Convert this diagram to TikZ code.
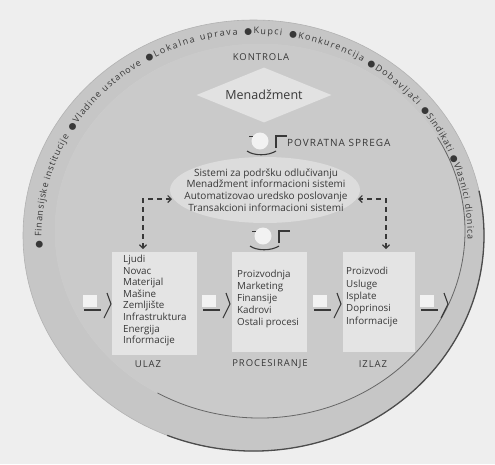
\documentclass[tikz,border=0pt]{standalone}
\usepackage{fontspec}
\setmainfont{Open Sans}
\newfontfamily\bulf{DejaVu Sans}
\newfontfamily\capsf[LetterSpace=10]{Open Sans}
\usetikzlibrary{decorations.text,arrows.meta,shapes.geometric}
\definecolor{txt}{HTML}{383838}
\definecolor{bgc}{HTML}{EEEEEE}
\definecolor{ringc}{HTML}{C6C6C6}
\definecolor{discc}{HTML}{CACACA}
\definecolor{boxc}{HTML}{E4E4E4}
\definecolor{cloudc}{HTML}{DCDCDC}
\definecolor{diac}{HTML}{E2E2E2}
\definecolor{iconc}{HTML}{F2F2F2}
\newcommand\ringfont{\fontsize{9}{10}\selectfont\color{txt}}
\newcommand\ringseg[3]{%
  \path[decorate, decoration={text along path, text align={fit to path}, text={|\ringfont|#3}}]
  (254.5,-236) ++(#1:213 and 202) arc[start angle=#1, end angle=#2, x radius=213, y radius=202];}
\tikzset{
  lbl/.style={text=txt, inner sep=0pt, font=\capsf\fontsize{9.5}{11}\selectfont},
  listtxt/.style={text=txt, inner sep=0pt, align=left, font=\fontsize{9.8}{11.6}\selectfont},
  boxst/.style={fill=boxc, inner sep=0pt, anchor=north west},
  dconn/.style={txt, line width=1.1pt, dash pattern=on 5pt off 4pt,
     {Straight Barb[length=3.5pt,width=7pt]}-{Straight Barb[length=3.5pt,width=7pt]}},
  inarrow/.pic={
    \fill[iconc] (0,3) rectangle (14,15);
    \draw[txt, line width=1.1pt] (1,0) -- (18,0);
    \draw[txt, line width=1.1pt, line join=round] (24,17) -- (28,6) -- (21,-8);
  },
  fbicon/.pic={
    \fill[iconc] (0,0) circle (8.5);
    \draw[txt, line width=0.6pt] (-11,5) -- (-7,5);
    \draw[txt, line width=1.1pt] (-13,-10) .. controls (-6,-15) and (8,-15) .. (16,-10);
    \draw[txt, line width=1.3pt] (16,-7) -- (16,5) -- (27,5);
  }
}
\begin{document}
\begin{tikzpicture}[x=1pt,y=1pt]
\useasboundingbox (0,0) rectangle (495,-464);
\fill[bgc] (0,0) rectangle (495,-464);
% outer disc
\fill[ringc] (253.5,-235.5) ellipse [x radius=230.5, y radius=215.5];
\draw[gray!60, line width=0.6pt] (253.5,-235.5) ellipse [x radius=230.5, y radius=215.5];
\draw[black!70, line width=1.3pt] (253.5,-235.5) ++(-112:230.5 and 215.5)
   arc[start angle=-112, end angle=12, x radius=230.5, y radius=215.5];
% inner disc
\fill[discc] (260,-231) ellipse [x radius=205, y radius=187];
\draw[gray!40, line width=0.5pt] (260,-231) ellipse [x radius=205, y radius=187];
\draw[black!60, line width=0.8pt] (260,-231) ++(-120:205 and 187)
   arc[start angle=-120, end angle=30, x radius=205, y radius=187];
% text along the ring
\ringseg{183.5}{150.5}{{\bulf ●} Finansijske institucije}
\ringseg{148.7}{122}{{\bulf ●}Vladine ustanove}
\ringseg{120.3}{94.5}{{\bulf ●}Lokalna uprava}
\ringseg{92.7}{82.6}{{\bulf ●}Kupci}
\ringseg{80.7}{59.5}{{\bulf ●}Konkurencija}
\ringseg{58.2}{40.2}{{\bulf ●}Dobavljači}
\ringseg{38.7}{24.5}{{\bulf ●}Sindikati}
\ringseg{23.3}{-1}{{\bulf ●}Vlasnici dionica}
% control and management
\node[lbl] (kontrola) at (261,-57) {KONTROLA};
\node[diamond, aspect=2.45, fill=diac, minimum width=135, minimum height=55, inner sep=0pt, text=txt,
      font=\fontsize{12.5}{14}\selectfont] (men) at (264,-95) {Menadžment};
% feedback
\pic at (260,-141) {fbicon};
\node[lbl, anchor=west, font=\capsf\fontsize{10}{12}\selectfont] (povratna) at (287,-143) {POVRATNA SPREGA};
% information systems cloud
\node[ellipse, fill=cloudc, minimum width=190, minimum height=66, inner sep=0pt] (cloud) at (265,-190) {};
\node[text=txt, inner sep=0pt, align=center, font=\fontsize{10}{11.7}\selectfont] (cloudtxt) at (266,-190)
  {Sistemi za podršku odlučivanju\\Menadžment informacioni sistemi\\Automatizovao uredsko poslovanje\\Transakcioni informacioni sistemi};
\pic at (263,-236) {fbicon};
% boxes
\node[boxst, minimum width=85, minimum height=103] (ulazbox) at (112,-252) {};
\node[boxst, minimum width=75, minimum height=100] (procbox) at (232,-252) {};
\node[boxst, minimum width=72, minimum height=100] (izlazbox) at (343,-252) {};
\node[listtxt, anchor=west] (ulaztxt) at (123,-300.5)
  {Ljudi\\Novac\\Materijal\\Mašine\\Zemljište\\Infrastruktura\\Energija\\Informacije};
\node[listtxt, anchor=west, font=\fontsize{9.8}{12}\selectfont] (proctxt) at (237,-299)
  {Proizvodnja\\Marketing\\Finansije\\Kadrovi\\Ostali procesi};
\node[listtxt, anchor=west, font=\fontsize{9.8}{12.4}\selectfont] (izlaztxt) at (346,-297)
  {Proizvodi\\Usluge\\Isplate\\Doprinosi\\Informacije};
\node[lbl] (ulaz) at (148,-364) {ULAZ};
\node[lbl] (proc) at (270,-364) {PROCESIRANJE};
\node[lbl] (izlaz) at (373,-364) {IZLAZ};
% dashed connectors
\coordinate (cL) at (172,-199);
\coordinate (uT) at (143,-249);
\coordinate (cR) at (358,-199);
\coordinate (iT) at (386,-249);
\draw[dconn] (uT) |- (cL);
\draw[dconn] (iT) |- (cR);
% flow icons
\pic at (83,-310) {inarrow};
\pic at (202,-310) {inarrow};
\pic at (313,-310) {inarrow};
\pic at (420,-310) {inarrow};
\end{tikzpicture}
\end{document}
